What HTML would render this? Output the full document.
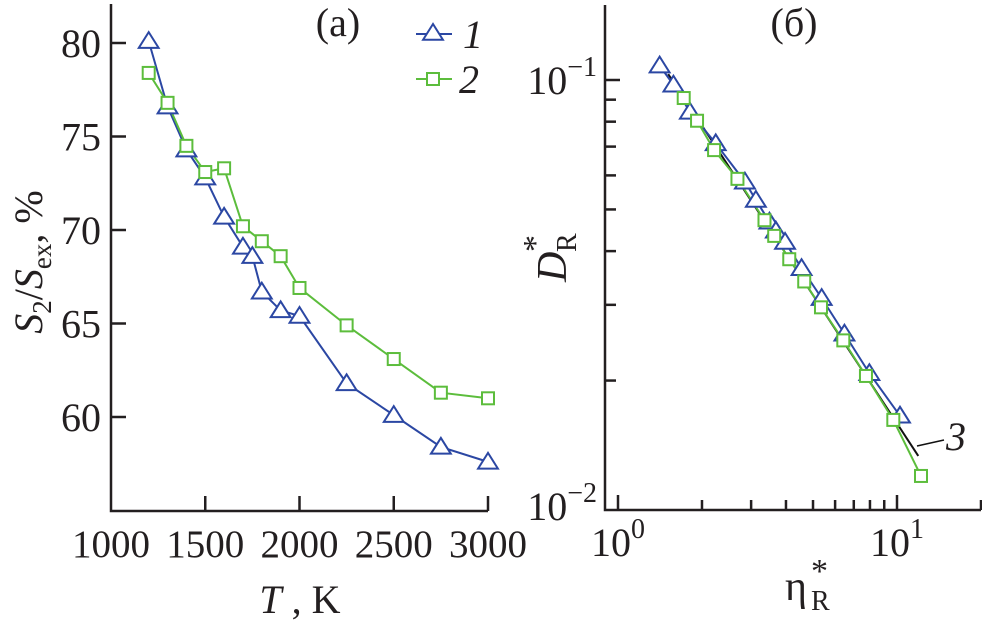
<!DOCTYPE html>
<html><head><meta charset="utf-8"><style>
html,body{margin:0;padding:0;background:#fff;}
svg, svg text, svg tspan{font-family:"Liberation Serif","Times New Roman",serif;}
</style></head><body>
<svg id="chart" width="982" height="627" viewBox="0 0 982 627" xmlns="http://www.w3.org/2000/svg" font-family="Liberation Serif, serif"></svg>
<script>
// Panel (a) data
const tempsA1 = [1200,1300,1400,1500,1600,1700,1750,1800,1900,2000,2250,2500,2750,3000];
const ratio1 = [80.1,76.6,74.3,72.8,70.7,69.1,68.6,66.7,65.7,65.4,61.8,60.1,58.4,57.6];
const tempsA2 = [1200,1300,1400,1500,1600,1700,1800,1900,2000,2250,2500,2750,3000];
const ratio2 = [78.4,76.8,74.5,73.1,73.3,70.2,69.4,68.6,66.9,64.9,63.1,61.3,61.0];
const xTicksA = [1000,1500,2000,2500,3000];
const yTicksA = [60,65,70,75,80];
// Panel (b) data
const eta1 = [1.41,1.58,1.81,2.24,2.85,3.12,3.49,3.68,3.97,4.55,5.37,6.48,7.96,10.25];
const dR1 = [0.108,0.0975,0.0843,0.0712,0.058,0.0526,0.0468,0.0446,0.042,0.0365,0.0311,0.0257,0.0208,0.01656];
const eta2 = [1.72,1.92,2.21,2.68,3.35,3.63,4.11,4.65,5.34,6.42,7.74,9.70,12.19];
const dR2 = [0.0908,0.0804,0.0687,0.0589,0.0472,0.0434,0.0383,0.034,0.0296,0.0248,0.0205,0.0162,0.0120];
const fitEta = [1.514,11.92];
const fitD = [0.1032,0.01336];

const NS="http://www.w3.org/2000/svg";
const svg=document.getElementById('chart');
const FF="Liberation Serif, serif";
function mk(tag,attrs,parent){const e=document.createElementNS(NS,tag);for(const k in attrs)e.setAttribute(k,attrs[k]);(parent||svg).appendChild(e);return e;}
const BLUE="#2b47a3", GREEN="#5cbd3c", AX="#231f20";

const xA=t=>111+(t-1000)*0.1885;
const yA=v=>417-(v-60)*18.7;
const xB=e=>618+Math.log10(e)*279;
const yB=d=>80-(Math.log10(d)+1)*430;

function tri(g,x,y,name){const s=9;const p=mk('polygon',{points:`${x},${y-s} ${x-s*1.1},${y+s*0.75} ${x+s*1.1},${y+s*0.75}`,fill:'#fff',stroke:BLUE,'stroke-width':2},g);

}
function sq(g,x,y,name){const s=6;const p=mk('rect',{x:x-s,y:y-s,width:2*s,height:2*s,fill:'#fff',stroke:GREEN,'stroke-width':2},g);

}
function txt(g,x,y,s,attrs,name){const t=mk('text',Object.assign({x:x,y:y,fill:AX,'font-family':FF},attrs),g);t.textContent=s;

return t;}

// ===== Panel A =====
const gA=mk('g',{});


const axA=mk('path',{d:`M111,4 V511 H${xA(3000)}`,fill:'none',stroke:AX,'stroke-width':2.5},gA);


xTicksA.forEach(t=>{
  if(t>1000){const l=mk('line',{x1:xA(t),x2:xA(t),y1:511,y2:496,stroke:AX,'stroke-width':2.5},gA);
  
  }
  txt(gA,xA(t),557,String(t),{'font-size':39,'text-anchor':'middle'},'x-tick-label-a');
});
yTicksA.forEach(v=>{
  const l=mk('line',{x1:111,x2:126,y1:yA(v),y2:yA(v),stroke:AX,'stroke-width':2.5},gA);
  
  
  txt(gA,101,yA(v)+14,String(v),{'font-size':40,'text-anchor':'end'},'y-tick-label-a');
});
const xtA=mk('text',{x:300,y:613,'font-size':40,fill:AX,'text-anchor':'middle','font-family':FF},gA);
xtA.innerHTML='<tspan font-style="italic">T</tspan> , K';


const ytA=mk('text',{transform:'translate(42,262) rotate(-90)','font-size':40,fill:AX,'text-anchor':'middle','font-family':FF},gA);
ytA.innerHTML='<tspan font-style="italic">S</tspan><tspan font-size="27" dy="9">2</tspan><tspan dy="-9">/</tspan><tspan font-style="italic">S</tspan><tspan font-size="27" dy="9">ex</tspan><tspan dy="-9">, %</tspan>';


txt(gA,338,36,'(a)',{'font-size':40,'text-anchor':'middle'},'panel-a-label');
const l1=mk('polyline',{points:tempsA1.map((t,i)=>xA(t)+','+yA(ratio1[i])).join(' '),fill:'none',stroke:BLUE,'stroke-width':2},gA);


const l2=mk('polyline',{points:tempsA2.map((t,i)=>xA(t)+','+yA(ratio2[i])).join(' '),fill:'none',stroke:GREEN,'stroke-width':2},gA);


tempsA1.forEach((t,i)=>tri(gA,xA(t),yA(ratio1[i]),'series-1-point'));
tempsA2.forEach((t,i)=>sq(gA,xA(t),yA(ratio2[i]),'series-2-point'));
const lg=mk('g',{},gA);


const lgl1=mk('line',{x1:416,x2:452,y1:34,y2:34,stroke:BLUE,'stroke-width':2},lg);


tri(lg,433,33,'legend-marker-1');
txt(lg,463,48,'1',{'font-size':40,'font-style':'italic'},'legend-entry-1');
const lgl2=mk('line',{x1:416,x2:452,y1:79,y2:79,stroke:GREEN,'stroke-width':2},lg);


sq(lg,433,79,'legend-marker-2');
txt(lg,459,93,'2',{'font-size':40,'font-style':'italic'},'legend-entry-2');

// ===== Panel B =====
const gB=mk('g',{});


const axB=mk('path',{d:'M605,5 V510 H981',fill:'none',stroke:AX,'stroke-width':2.5},gB);


for(let k=1;k<=20;k++){
  if(k>10 && k!==20) continue;
  const major=(k===1||k===10);
  const l=mk('line',{x1:xB(k),x2:xB(k),y1:510,y2:major?495:500,stroke:AX,'stroke-width':2.5},gB);
  
  
}
for(let k=2;k<=10;k++){
  const d=k*0.01;
  const l=mk('line',{x1:605,x2:k===10?620:616,y1:yB(d),y2:yB(d),stroke:AX,'stroke-width':2.5},gB);
  
  
}
const yl1=mk('text',{x:597,y:94,'font-size':40,fill:AX,'text-anchor':'end','font-family':FF},gB);
yl1.innerHTML='10<tspan font-size="28" dy="-18">−1</tspan>';


const yl2=mk('text',{x:597,y:520,'font-size':40,fill:AX,'text-anchor':'end','font-family':FF},gB);
yl2.innerHTML='10<tspan font-size="28" dy="-18">−2</tspan>';


const xl1=mk('text',{x:xB(1),y:556,'font-size':40,fill:AX,'text-anchor':'middle','font-family':FF},gB);
xl1.innerHTML='10<tspan font-size="28" dy="-18">0</tspan>';


const xl2=mk('text',{x:xB(10),y:556,'font-size':40,fill:AX,'text-anchor':'middle','font-family':FF},gB);
xl2.innerHTML='10<tspan font-size="28" dy="-18">1</tspan>';


// x-axis title eta*_R
const xtB=mk('g',{},gB);


txt(xtB,785,600,'η',{'font-size':42},'x-axis-title-eta');
txt(xtB,811,610,'R',{'font-size':28},'x-axis-title-sub');
txt(xtB,811,582,'*',{'font-size':34},'x-axis-title-star');
// y-axis title D*_R
const ytB=mk('g',{transform:'translate(566,282) rotate(-90)'},gB);


txt(ytB,0,0,'D',{'font-size':42,'font-style':'italic'},'y-axis-title-d');
txt(ytB,30,10,'R',{'font-size':28},'y-axis-title-sub');
txt(ytB,30,-20,'*',{'font-size':34},'y-axis-title-star');
txt(gB,794,36,'(б)',{'font-size':40,'text-anchor':'middle'},'panel-b-label');
const fl=mk('line',{x1:xB(fitEta[0]),y1:yB(fitD[0]),x2:xB(fitEta[1]),y2:yB(fitD[1]),stroke:'#111','stroke-width':2},gB);


const b1=mk('polyline',{points:eta1.map((e,i)=>xB(e)+','+yB(dR1[i])).join(' '),fill:'none',stroke:BLUE,'stroke-width':2},gB);


const b2=mk('polyline',{points:eta2.map((e,i)=>xB(e)+','+yB(dR2[i])).join(' '),fill:'none',stroke:GREEN,'stroke-width':2},gB);


eta1.forEach((e,i)=>tri(gB,xB(e),yB(dR1[i]),'series-1-point-b'));
eta2.forEach((e,i)=>sq(gB,xB(e),yB(dR2[i]),'series-2-point-b'));
const ll=mk('line',{x1:917,y1:446,x2:944,y2:440,stroke:'#111','stroke-width':1.5},gB);


txt(gB,946,450,'3',{'font-size':40,'font-style':'italic'},'fit-label-3');
</script>
</body></html>
